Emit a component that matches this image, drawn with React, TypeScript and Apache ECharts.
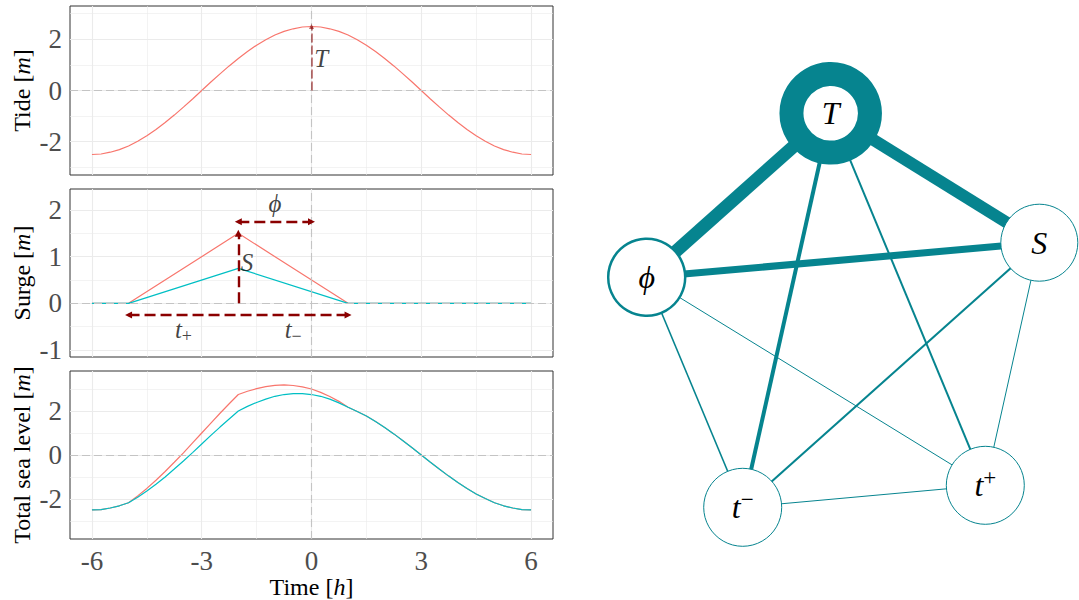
import React, { useEffect, useRef } from 'react';
import * as echarts from 'echarts';

// ---------- data ----------
const times = [-6, -5.75, -5.5, -5.25, -5, -4.75, -4.5, -4.25, -4, -3.75, -3.5, -3.25, -3, -2.75, -2.5, -2.25, -2, -1.75, -1.5, -1.25, -1, -0.75, -0.5, -0.25, 0, 0.25, 0.5, 0.75, 1, 1.25, 1.5, 1.75, 2, 2.25, 2.5, 2.75, 3, 3.25, 3.5, 3.75, 4, 4.25, 4.5, 4.75, 5, 5.25, 5.5, 5.75, 6];
const tide = [-2.5, -2.48, -2.41, -2.31, -2.17, -1.98, -1.77, -1.52, -1.25, -0.96, -0.65, -0.33, 0, 0.33, 0.65, 0.96, 1.25, 1.52, 1.77, 1.98, 2.17, 2.31, 2.41, 2.48, 2.5, 2.48, 2.41, 2.31, 2.17, 1.98, 1.77, 1.52, 1.25, 0.96, 0.65, 0.33, 0, -0.33, -0.65, -0.96, -1.25, -1.52, -1.77, -1.98, -2.17, -2.31, -2.41, -2.48, -2.5];
const surgeTimes = [-6, -5, -2, 1, 6];
const surgeHigh = [0, 0, 1.5, 0, 0];
const surgeLow = [0, 0, 0.75, 0, 0];
const totalHigh = [-2.5, -2.48, -2.41, -2.31, -2.17, -1.86, -1.52, -1.15, -0.75, -0.33, 0.1, 0.55, 1.0, 1.45, 1.9, 2.33, 2.75, 2.9, 3.02, 3.11, 3.17, 3.19, 3.16, 3.1, 3.0, 2.85, 2.66, 2.44, 2.17, 1.98, 1.77, 1.52, 1.25, 0.96, 0.65, 0.33, 0, -0.33, -0.65, -0.96, -1.25, -1.52, -1.77, -1.98, -2.17, -2.31, -2.41, -2.48, -2.5];
const totalLow = [-2.5, -2.48, -2.41, -2.31, -2.17, -1.92, -1.64, -1.33, -1.0, -0.64, -0.27, 0.11, 0.5, 0.89, 1.27, 1.64, 2.0, 2.21, 2.39, 2.54, 2.67, 2.75, 2.79, 2.79, 2.75, 2.67, 2.54, 2.37, 2.17, 1.98, 1.77, 1.52, 1.25, 0.96, 0.65, 0.33, 0, -0.33, -0.65, -0.96, -1.25, -1.52, -1.77, -1.98, -2.17, -2.31, -2.41, -2.48, -2.5];

const xMajor = [-6, -3, 0, 3, 6];
const xMinor = [-4.5, -1.5, 1.5, 4.5];
const tideMajor = [-2, 0, 2];
const tideMinor = [-3, -1, 1, 3];
const surgeMajor = [-1, 0, 1, 2];
const surgeMinor = [-0.5, 0.5, 1.5];
const totalMajor = [-2, 0, 2];
const totalMinor = [-3, -1, 1, 3];

// network
const nodeIds = ['T', 'S', 'phi', 'tm', 'tp'];
const nodeLabels = ['{i|T}', '{i|S}', '{i|ϕ}', '{i|t}{sup|−}', '{i|t}{sup|+}'];
const nodeX = [830.7, 1039.3, 646.7, 742.7, 985.3];
const nodeY = [113.3, 242.7, 277.3, 507.3, 485.3];
const nodeRingWidth = [24, 1, 2.5, 1, 1];
const nodeDiameter = [78.5, 77, 77, 78, 78];
const edgeSource = ['T', 'T', 'phi', 'T', 'T', 'S', 'phi', 'phi', 'S', 'tm'];
const edgeTarget = ['phi', 'S', 'S', 'tm', 'tp', 'tm', 'tm', 'tp', 'tp', 'tp'];
const edgeWeight = [13, 12, 7, 4, 2, 2, 1.6, 1, 1, 1];

// ---------- styles ----------
const FONT = "'Liberation Serif', 'DejaVu Serif', serif";
const RED = '#F8766D';
const CYAN = '#00BFC4';
const DARKRED = '#8B0000';
const TEAL = '#06848F';
const GRIDC = '#EBEBEB';

const yRanges = [[-3.3, 3.3], [-1.15, 2.45], [-3.82, 3.82]];
const yMajors = [tideMajor, surgeMajor, totalMajor];
const yMinors = [tideMinor, surgeMinor, totalMinor];
const yNames = ['Tide [{m|m}]', 'Surge [{m|m}]', 'Total sea level [{m|m}]'];

function gridLineSeries(i: number) {
  const data: any[] = [];
  xMinor.forEach((v) => data.push({ xAxis: v, lineStyle: { color: GRIDC, width: 0.6, type: 'solid' } }));
  yMinors[i].forEach((v) => data.push({ yAxis: v, lineStyle: { color: GRIDC, width: 0.6, type: 'solid' } }));
  xMajor.forEach((v) => data.push({ xAxis: v, lineStyle: { color: GRIDC, width: 1.1, type: 'solid' } }));
  yMajors[i].forEach((v) => data.push({ yAxis: v, lineStyle: { color: GRIDC, width: 1.1, type: 'solid' } }));
  return {
    type: 'line', xAxisIndex: i, yAxisIndex: i, data: [], silent: true, z: 1,
    markLine: { silent: true, z: 1, symbol: 'none', label: { show: false }, data, animation: false },
  };
}

function refSeries(i: number) {
  const ls = { color: '#C4C4C4', width: 1.1, type: [8, 4] };
  return {
    type: 'line', xAxisIndex: i, yAxisIndex: i, data: [], silent: true, z: 3,
    markLine: {
      silent: true, z: 3, symbol: 'none', label: { show: false }, animation: false,
      data: [{ xAxis: 0, lineStyle: ls }, { yAxis: 0, lineStyle: ls }],
    },
  };
}

function lineSeries(i: number, xs: number[], ys: number[], color: string, z: number) {
  return {
    type: 'line', xAxisIndex: i, yAxisIndex: i, z,
    data: xs.map((x, k) => [x, ys[k]]),
    showSymbol: false, symbol: 'none', smooth: false,
    lineStyle: { color, width: 1.2 }, silent: true,
  };
}

const labelRich = {
  i: { fontFamily: FONT, fontStyle: 'italic', fontSize: 25, color: '#111', lineHeight: 32 },
  sub: { fontFamily: FONT, fontSize: 18, color: '#111', lineHeight: 12, verticalAlign: 'bottom' },
};

function App() {
  const ref = useRef<HTMLDivElement>(null);
  useEffect(() => {
    const chart = echarts.init(ref.current as HTMLDivElement, null, { renderer: 'svg' });

    const grids = [0, 1, 2].map((i) => ({
      left: 70, width: 483,
      top: [6, 189, 371][i], height: [169, 168, 168][i],
      show: true, borderColor: '#333', borderWidth: 1, backgroundColor: 'transparent',
      containLabel: false, outerBoundsMode: 'none',
    }));

    const xAxes = [0, 1, 2].map((i) => ({
      type: 'value', gridIndex: i, min: -6.6, max: 6.6,
      axisLine: { show: false },
      splitLine: { show: false },
      axisTick: { show: true, length: 5, customValues: xMajor, lineStyle: { color: '#333', width: 1 } },
      axisLabel: {
        show: i === 2, customValues: xMajor, margin: 8,
        fontFamily: FONT, fontSize: 27, color: '#4D4D4D',
      },
      name: i === 2 ? 'Time [{h|h}]' : '',
      nameLocation: 'middle', nameGap: 35,
      nameTextStyle: {
        fontFamily: FONT, fontSize: 24, color: '#000',
        rich: { h: { fontFamily: FONT, fontStyle: 'italic', fontSize: 24, color: '#000' } },
      },
    }));

    const yAxes = [0, 1, 2].map((i) => ({
      type: 'value', gridIndex: i, min: yRanges[i][0], max: yRanges[i][1],
      axisLine: { show: false },
      splitLine: { show: false },
      axisTick: { show: true, length: 4, customValues: yMajors[i], lineStyle: { color: '#333', width: 1 } },
      axisLabel: {
        show: true, customValues: yMajors[i], margin: 8,
        fontFamily: FONT, fontSize: 27, color: '#4D4D4D',
      },
      name: yNames[i], nameLocation: 'middle', nameGap: 36, nameRotate: 90,
      nameTextStyle: {
        fontFamily: FONT, fontSize: 24, color: '#000',
        rich: { m: { fontFamily: FONT, fontStyle: 'italic', fontSize: 24, color: '#000' } },
      },
    }));

    const arrowBold = { color: DARKRED, width: 2.4, type: [11, 5] };
    const tri = 'triangle';

    const series: any[] = [
      // panel 1
      gridLineSeries(0),
      lineSeries(0, times, tide, RED, 2),
      refSeries(0),
      {
        type: 'line', xAxisIndex: 0, yAxisIndex: 0, data: [], silent: true, z: 4,
        markLine: {
          silent: true, z: 4, label: { show: false }, animation: false,
          lineStyle: { color: 'rgba(139,0,0,0.6)', width: 1.6, type: [9, 3] },
          data: [[{ coord: [0, 0], symbol: 'none' }, { coord: [0, 2.5], symbol: tri, symbolSize: [5, 5] }]],
        },
      },
      {
        type: 'scatter', xAxisIndex: 0, yAxisIndex: 0, z: 5, silent: true,
        symbol: 'circle', symbolSize: 1, itemStyle: { color: 'rgba(0,0,0,0)' },
        label: { show: true, rich: labelRich },
        data: [{ value: [0.06, 1.25], label: { formatter: '{i|T}', position: 'right', distance: 0 } }],
      },
      // panel 2
      gridLineSeries(1),
      lineSeries(1, surgeTimes, surgeHigh, RED, 2),
      lineSeries(1, surgeTimes, surgeLow, CYAN, 2),
      refSeries(1),
      {
        type: 'line', xAxisIndex: 1, yAxisIndex: 1, data: [], silent: true, z: 4,
        markLine: {
          silent: true, z: 4, label: { show: false }, animation: false,
          lineStyle: arrowBold,
          data: [
            [{ coord: [-2, 1.75], symbol: tri, symbolSize: [7, 7] }, { coord: [0, 1.75], symbol: tri, symbolSize: [7, 7] }],
            [{ coord: [-2, 0], symbol: 'none' }, { coord: [-2, 1.5], symbol: tri, symbolSize: [7, 7] }],
            [{ coord: [-5, -0.25], symbol: tri, symbolSize: [7, 7] }, { coord: [1, -0.25], symbol: tri, symbolSize: [7, 7] }],
          ],
        },
      },
      {
        type: 'scatter', xAxisIndex: 1, yAxisIndex: 1, z: 5, silent: true,
        symbol: 'circle', symbolSize: 1, itemStyle: { color: 'rgba(0,0,0,0)' },
        label: { show: true, rich: labelRich, position: 'inside' },
        data: [
          { value: [-1, 2.15], label: { formatter: '{i|ϕ}', position: 'inside' } },
          { value: [-1.95, 0.88], label: { formatter: '{i|S}', position: 'right', distance: 0 } },
          { value: [-3.5, -0.55], label: { formatter: '{i|t}{sub|+}', position: 'inside' } },
          { value: [-0.5, -0.55], label: { formatter: '{i|t}{sub|−}', position: 'inside' } },
        ],
      },
      // panel 3
      gridLineSeries(2),
      lineSeries(2, times, totalHigh, RED, 2),
      lineSeries(2, times, totalLow, CYAN, 2),
      refSeries(2),
      // network
      {
        type: 'graph', layout: 'none', roam: false, silent: true,
        left: nodeX[2], top: nodeY[0],
        width: nodeX[1] - nodeX[2], height: nodeY[3] - nodeY[0],
        symbol: 'circle', edgeSymbol: ['none', 'none'],
        itemStyle: { color: '#FFFFFF', borderColor: TEAL },
        label: {
          show: true, position: 'inside',
          rich: {
            i: { fontFamily: FONT, fontStyle: 'italic', fontSize: 32, color: '#000', lineHeight: 38 },
            sup: { fontFamily: FONT, fontSize: 23, color: '#000', lineHeight: 22, verticalAlign: 'top' },
          },
        },
        lineStyle: { color: TEAL, opacity: 1, curveness: 0 },
        emphasis: { disabled: true },
        data: nodeIds.map((id, k) => ({
          name: id, x: nodeX[k], y: nodeY[k], symbolSize: nodeDiameter[k],
          itemStyle: { borderWidth: nodeRingWidth[k] },
          label: { formatter: nodeLabels[k] },
        })),
        links: edgeSource.map((s, k) => ({
          source: s, target: edgeTarget[k], lineStyle: { width: edgeWeight[k] },
        })),
      },
    ];

    chart.setOption({
      animation: false,
      backgroundColor: '#FFFFFF',
      grid: grids,
      xAxis: xAxes,
      yAxis: yAxes,
      series,
    });
    return () => chart.dispose();
  }, []);

  return <div ref={ref} style={{ position: 'fixed', left: 0, top: 0, width: 1079, height: 600, background: '#fff' }} />;
}

export default App;
